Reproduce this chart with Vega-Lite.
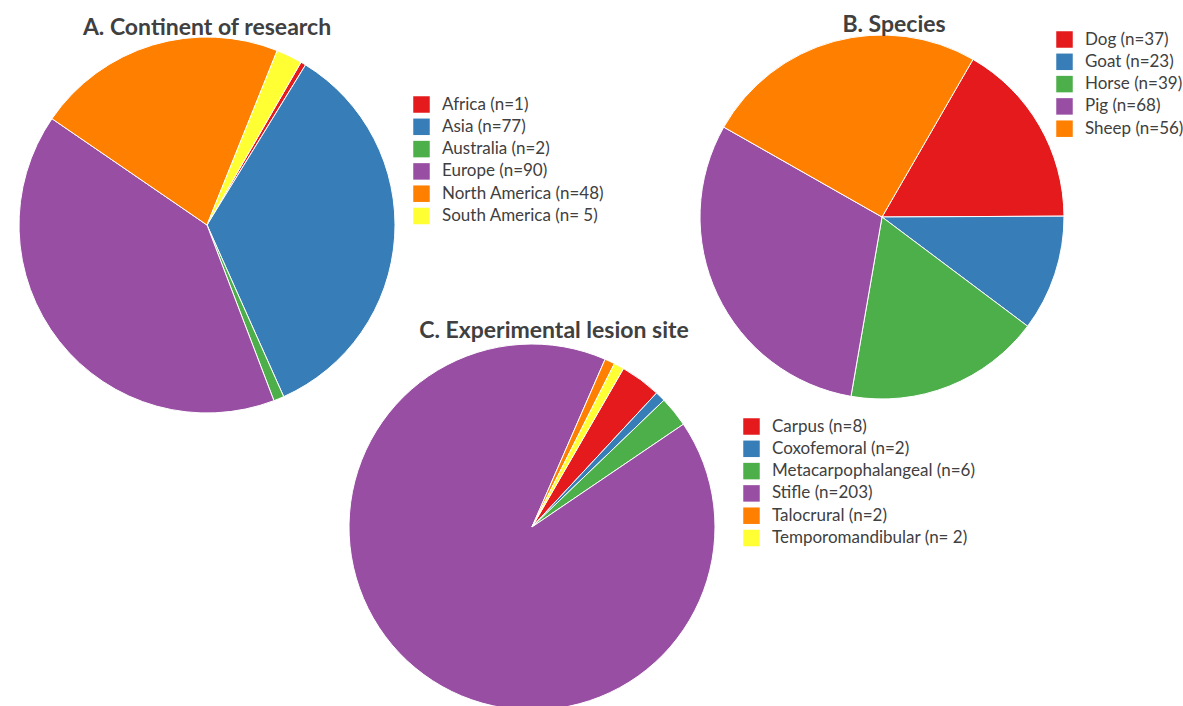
{
  "$schema": "https://vega.github.io/schema/vega-lite/v6.json",
  "padding": 0,
  "background": "white",
  "bounds": "flush",
  "spacing": 0,
  "datasets": {
    "continent": [
      {"label": "Africa (n=1)", "count": 1},
      {"label": "Asia (n=77)", "count": 77},
      {"label": "Australia (n=2)", "count": 2},
      {"label": "Europe (n=90)", "count": 90},
      {"label": "North America (n=48)", "count": 48},
      {"label": "South America (n= 5)", "count": 5}
    ],
    "species": [
      {"label": "Dog (n=37)", "count": 37},
      {"label": "Goat (n=23)", "count": 23},
      {"label": "Horse (n=39)", "count": 39},
      {"label": "Pig (n=68)", "count": 68},
      {"label": "Sheep (n=56)", "count": 56}
    ],
    "site": [
      {"label": "Carpus (n=8)", "count": 8},
      {"label": "Coxofemoral (n=2)", "count": 2},
      {"label": "Metacarpophalangeal (n=6)", "count": 6},
      {"label": "Stifle (n=203)", "count": 203},
      {"label": "Talocrural (n=2)", "count": 2},
      {"label": "Temporomandibular (n= 2)", "count": 2}
    ]
  },
  "hconcat": [
    {
      "width": 414,
      "height": 450,
      "data": {"name": "continent"},
      "title": {"text": "A. Continent of research", "frame": "group", "anchor": "middle", "offset": -40, "limit": 600},
      "mark": {"type": "arc", "radius": 188, "stroke": "white", "strokeWidth": 1},
      "encoding": {
        "theta": {"field": "count", "type": "quantitative", "stack": true, "scale": {"range": [0.5236, 6.8068]}},
        "order": {"field": "label", "type": "nominal"},
        "color": {
          "field": "label", "type": "nominal",
          "scale": {"range": ["#e41a1c", "#377eb8", "#4daf4a", "#984ea3", "#ff7f00", "#ffff33"]},
          "legend": {"orient": "none", "legendX": 413, "legendY": 96}
        }
      }
    },
    {
      "width": 236,
      "height": 1054,
      "data": {"name": "site"},
      "title": {"text": "C. Experimental lesion site", "frame": "group", "anchor": "middle", "offset": -343, "dx": 22, "limit": 600},
      "mark": {"type": "arc", "radius": 183, "stroke": "white", "strokeWidth": 1},
      "encoding": {
        "theta": {"field": "count", "type": "quantitative", "stack": true, "scale": {"range": [0.5236, 6.8068]}},
        "order": {"field": "label", "type": "nominal"},
        "color": {
          "field": "label", "type": "nominal",
          "scale": {"range": ["#e41a1c", "#377eb8", "#4daf4a", "#984ea3", "#ff7f00", "#ffff33"]},
          "legend": {"orient": "none", "legendX": 329, "legendY": 418}
        }
      }
    },
    {
      "width": 464,
      "height": 434,
      "data": {"name": "species"},
      "title": {"text": "B. Species", "frame": "group", "anchor": "middle", "offset": -37, "dx": 12, "limit": 600},
      "mark": {"type": "arc", "radius": 182, "stroke": "white", "strokeWidth": 1},
      "encoding": {
        "theta": {"field": "count", "type": "quantitative", "stack": true, "scale": {"range": [0.5236, 6.8068]}},
        "order": {"field": "label", "type": "nominal"},
        "color": {
          "field": "label", "type": "nominal",
          "scale": {"range": ["#e41a1c", "#377eb8", "#4daf4a", "#984ea3", "#ff7f00"]},
          "legend": {"orient": "none", "legendX": 406, "legendY": 31}
        }
      }
    }
  ],
  "resolve": {"scale": {"color": "independent", "theta": "independent"}, "legend": {"color": "independent"}},
  "config": {
    "view": {"stroke": null},
    "font": "Lato",
    "title": {"font": "Lato", "fontSize": 23, "fontWeight": "bold", "color": "#404040"},
    "legend": {
      "title": null,
      "padding": 0,
      "symbolType": "square",
      "symbolSize": 272,
      "symbolStrokeWidth": 0,
      "symbolOpacity": 1,
      "labelFont": "Lato",
      "labelFontSize": 17,
      "labelColor": "#404040",
      "labelOffset": 12,
      "labelLimit": 400,
      "rowPadding": 4.3
    }
  }
}
